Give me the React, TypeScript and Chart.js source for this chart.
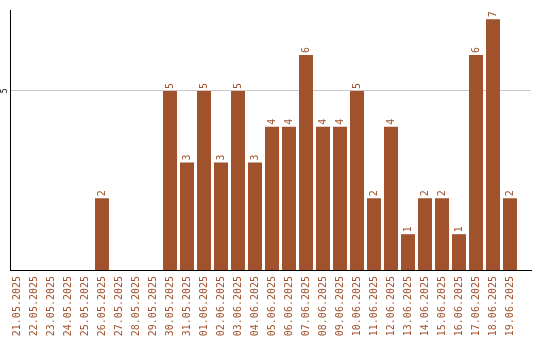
import React, { useEffect, useRef } from "react";
import { Chart, registerables } from "chart.js";

Chart.register(...registerables);

const dateLabels = [
  "21.05.2025", "22.05.2025", "23.05.2025", "24.05.2025", "25.05.2025",
  "26.05.2025", "27.05.2025", "28.05.2025", "29.05.2025", "30.05.2025",
  "31.05.2025", "01.06.2025", "02.06.2025", "03.06.2025", "04.06.2025",
  "05.06.2025", "06.06.2025", "07.06.2025", "08.06.2025", "09.06.2025",
  "10.06.2025", "11.06.2025", "12.06.2025", "13.06.2025", "14.06.2025",
  "15.06.2025", "16.06.2025", "17.06.2025", "18.06.2025", "19.06.2025",
];

const counts = [
  0, 0, 0, 0, 0,
  2, 0, 0, 0, 5,
  3, 5, 3, 5, 3,
  4, 4, 6, 4, 4,
  5, 2, 4, 1, 2,
  2, 1, 6, 7, 2,
];

const yTickValues = [5];

const BROWN = "#A0522D";
const MONO = "'DejaVu Sans Mono', monospace";

const valueLabelPlugin = {
  id: "valueLabels",
  afterDatasetsDraw(chart: any) {
    const ctx = chart.ctx;
    const meta = chart.getDatasetMeta(0);
    ctx.save();
    ctx.fillStyle = BROWN;
    ctx.font = `10px ${MONO}`;
    ctx.textAlign = "left";
    ctx.textBaseline = "middle";
    meta.data.forEach((el: any, i: number) => {
      const v = counts[i];
      if (!v) return;
      ctx.save();
      ctx.translate(el.x, el.y - 2);
      ctx.rotate(-Math.PI / 2);
      ctx.fillText(String(v), 0, 0);
      ctx.restore();
    });
    ctx.restore();
  },
};

export default function App() {
  const ref = useRef<HTMLCanvasElement | null>(null);

  useEffect(() => {
    if (!ref.current) return;
    const chart = new Chart(ref.current, {
      type: "bar",
      data: {
        datasets: [
          {
            data: counts.map((v, i) => ({ x: i, y: v })),
            backgroundColor: BROWN,
            borderWidth: 0,
            categoryPercentage: 1,
            barPercentage: 14 / 17,
          },
        ],
      },
      options: {
        animation: false,
        responsive: false,
        devicePixelRatio: 1,
        layout: { padding: { top: 10, right: 9, left: 0, bottom: 0 } },
        plugins: {
          legend: { display: false },
          tooltip: { enabled: false },
        },
        scales: {
          x: {
            type: "linear",
            offset: false,
            min: -7 / 17,
            max: 30.235,
            afterBuildTicks: (scale: any) => {
              scale.ticks = dateLabels.map((_, i) => ({ value: i }));
            },
            afterFit: (scale: any) => {
              scale.height = 70;
            },
            grid: { display: false, drawTicks: false, offset: false },
            border: { display: true, color: "#000", width: 1 },
            ticks: {
              autoSkip: false,
              minRotation: 90,
              maxRotation: 90,
              padding: 6,
              color: BROWN,
              font: { family: MONO, size: 10 },
              callback: (value: any) => dateLabels[value] ?? "",
            },
          },
          y: {
            min: 0,
            max: 7.26,
            afterBuildTicks: (scale: any) => {
              scale.ticks = yTickValues.map((v) => ({ value: v }));
            },
            afterFit: (scale: any) => {
              scale.width = 10;
            },
            grid: { color: "#c8c8c8", drawTicks: false, lineWidth: 1 },
            border: { display: true, color: "#000", width: 1 },
            ticks: {
              minRotation: 90,
              maxRotation: 90,
              crossAlign: "center",
              padding: 3,
              color: "#000",
              font: { family: MONO, size: 8 },
            },
          },
        },
      },
      plugins: [valueLabelPlugin],
    } as any);
    return () => chart.destroy();
  }, []);

  return (
    <div style={{ position: "absolute", left: 0, top: 0, width: 540, height: 340, background: "#fff" }}>
      <canvas ref={ref} width={540} height={340} style={{ display: "block" }} />
    </div>
  );
}
